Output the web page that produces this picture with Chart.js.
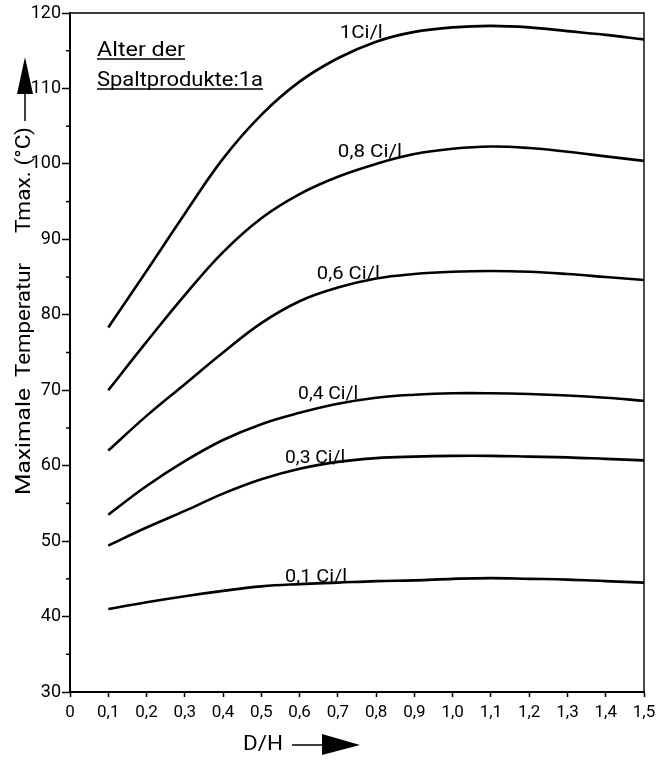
<!DOCTYPE html>
<html>
<head>
<meta charset="utf-8">
<title>Maximale Temperatur</title>
<script src="https://cdn.jsdelivr.net/npm/chart.js@4/dist/chart.umd.min.js"></script>
<style>
  body { margin: 0; background: #fff; }
  #contenedor { width: 672px; height: 761px; }
</style>
</head>
<body>
<div id="contenedor"><canvas id="grafico"></canvas></div>
<script>
// valores D/H (eje x)
const dh = [0.1, 0.2, 0.3, 0.4, 0.5, 0.6, 0.7, 0.8, 0.9, 1.0, 1.1, 1.2, 1.3, 1.4, 1.5];

// temperatura maxima (°C) para cada concentracion
const t1 = [78.3, 85.8, 93.4, 100.7, 106.5, 110.9, 114.0, 116.2, 117.5, 118.1, 118.3, 118.1, 117.6, 117.1, 116.5];
const t08 = [70.0, 76.4, 82.6, 88.3, 92.8, 96.0, 98.3, 100.0, 101.3, 102.0, 102.3, 102.1, 101.6, 101.0, 100.4];
const t06 = [62.0, 66.6, 70.8, 75.0, 78.9, 81.8, 83.6, 84.8, 85.4, 85.7, 85.8, 85.7, 85.4, 85.0, 84.6];
const t04 = [53.5, 57.3, 60.6, 63.4, 65.5, 67.0, 68.2, 69.0, 69.4, 69.6, 69.6, 69.5, 69.3, 69.0, 68.6];
const t03 = [49.4, 51.8, 54.0, 56.3, 58.2, 59.6, 60.5, 61.0, 61.2, 61.3, 61.3, 61.2, 61.1, 60.9, 60.7];
const t01 = [41.0, 41.9, 42.7, 43.4, 44.0, 44.3, 44.5, 44.7, 44.8, 45.0, 45.1, 45.0, 44.9, 44.7, 44.5];

const series = [t1, t08, t06, t04, t03, t01];
const etiquetas = ["1Ci/l", "0,8 Ci/l", "0,6 Ci/l", "0,4 Ci/l", "0,3 Ci/l", "0,1 Ci/l"];

// donde va cada etiqueta (en valores de D/H y °C) y cuanto mide de ancho
const etiquetaX = [0.705, 0.70, 0.645, 0.596, 0.562, 0.562];
const etiquetaY = [116.7, 100.9, 84.7, 68.8, 60.4, 44.6];
const etiquetaAncho = [43, 64, 63, 60, 60, 62];

const fuente = "Roboto, 'Liberation Sans', sans-serif";

function armarDatasets() {
  return series.map((valores, i) => ({
    label: etiquetas[i],
    data: dh.map((x, j) => ({ x: x, y: valores[j] })),
    borderColor: "#000",
    borderWidth: 2.6,
    pointRadius: 0,
    fill: false,
    tension: 0.4
  }));
}

// escribe un texto estirado a lo ancho para que ocupe "ancho" px
function textoEstirado(ctx, txt, x, y, ancho) {
  const w = ctx.measureText(txt).width;
  ctx.save();
  ctx.translate(x, y);
  ctx.scale(ancho / w, 1);
  ctx.fillText(txt, 0, 0);
  ctx.restore();
}

// marco, textos y flechas que no son parte de los ejes
const plugDibujos = {
  id: "dibujos",
  afterDraw(chart) {
    const ctx = chart.ctx;
    const area = chart.chartArea;
    const sx = chart.scales.x;
    const sy = chart.scales.y;
    ctx.save();
    ctx.fillStyle = "#000";
    ctx.strokeStyle = "#000";

    // borde de arriba y derecha
    ctx.lineWidth = 1.4;
    ctx.beginPath();
    ctx.moveTo(area.left, area.top);
    ctx.lineTo(area.right, area.top);
    ctx.lineTo(area.right, area.bottom);
    ctx.stroke();

    // rayitas chicas del eje y (cada 5 grados)
    ctx.lineWidth = 1.5;
    for (let v = 35; v < 120; v += 10) {
      const py = sy.getPixelForValue(v);
      ctx.beginPath();
      ctx.moveTo(area.left - 4, py);
      ctx.lineTo(area.left, py);
      ctx.stroke();
    }

    // etiquetas de las curvas
    ctx.font = "18px " + fuente;
    ctx.textAlign = "left";
    ctx.textBaseline = "alphabetic";
    etiquetas.forEach((txt, i) => {
      textoEstirado(ctx, txt, sx.getPixelForValue(etiquetaX[i]), sy.getPixelForValue(etiquetaY[i]), etiquetaAncho[i]);
    });

    // nota arriba a la izquierda (subrayada)
    ctx.font = "20px " + fuente;
    ctx.lineWidth = 1.3;
    const notas = [["Alter der", 43, 88], ["Spaltprodukte:1a", 73, 166]];
    notas.forEach(([txt, base, ancho]) => {
      const x0 = area.left + 27;
      textoEstirado(ctx, txt, x0, area.top + base, ancho);
      ctx.beginPath();
      ctx.moveTo(x0, area.top + base + 3);
      ctx.lineTo(x0 + ancho, area.top + base + 3);
      ctx.stroke();
    });

    // titulo del eje y, rotado
    ctx.save();
    ctx.translate(25, 0);
    ctx.rotate(-Math.PI / 2);
    ctx.font = "21px " + fuente;
    ctx.textAlign = "left";
    ctx.textBaseline = "middle";
    textoEstirado(ctx, "Maximale", -495, 0, 107);
    textoEstirado(ctx, "Temperatur", -377, 0, 114);
    textoEstirado(ctx, "Tmax. (°C)", -233, 0, 106);
    ctx.restore();

    // flecha del eje y
    ctx.lineWidth = 1.5;
    ctx.beginPath();
    ctx.moveTo(25, 121);
    ctx.lineTo(25, 92);
    ctx.stroke();
    ctx.beginPath();
    ctx.moveTo(25, 57);
    ctx.lineTo(17, 94);
    ctx.lineTo(33, 94);
    ctx.closePath();
    ctx.fill();

    // titulo del eje x con su flecha
    ctx.font = "21px " + fuente;
    ctx.textAlign = "left";
    ctx.textBaseline = "middle";
    textoEstirado(ctx, "D/H", 243, 745, 40);
    ctx.beginPath();
    ctx.moveTo(292, 745);
    ctx.lineTo(326, 745);
    ctx.stroke();
    ctx.beginPath();
    ctx.moveTo(360, 745);
    ctx.lineTo(322, 734);
    ctx.lineTo(322, 755);
    ctx.closePath();
    ctx.fill();

    ctx.restore();
  }
};

const config = {
  type: "line",
  data: { datasets: armarDatasets() },
  options: {
    responsive: true,
    maintainAspectRatio: false,
    animation: false,
    layout: { padding: { top: 13, right: 28, left: 0, bottom: 0 } },
    plugins: {
      legend: { display: false },
      tooltip: { enabled: false }
    },
    scales: {
      x: {
        type: "linear",
        min: 0,
        max: 1.5,
        afterFit: (escala) => { escala.height = 69; },
        border: { display: true, color: "#000", width: 2 },
        grid: { display: true, drawOnChartArea: false, color: "#000", tickLength: 5, tickWidth: 1.5 },
        ticks: {
          stepSize: 0.1,
          autoSkip: false,
          maxRotation: 0,
          padding: 6,
          color: "#000",
          font: { family: fuente, size: 17 },
          callback: (v) => (Math.abs(v) < 1e-9 ? "0" : Number(v).toFixed(1).replace(".", ","))
        }
      },
      y: {
        min: 30,
        max: 120,
        afterFit: (escala) => { escala.width = 70; },
        border: { display: true, color: "#000", width: 2 },
        grid: { display: true, drawOnChartArea: false, color: "#000", tickLength: 8, tickWidth: 1.5 },
        ticks: {
          stepSize: 10,
          autoSkip: false,
          padding: 1,
          color: "#000",
          font: { family: fuente, size: 18 }
        }
      }
    }
  },
  plugins: [plugDibujos]
};

new Chart(document.getElementById("grafico"), config);
</script>
</body>
</html>
